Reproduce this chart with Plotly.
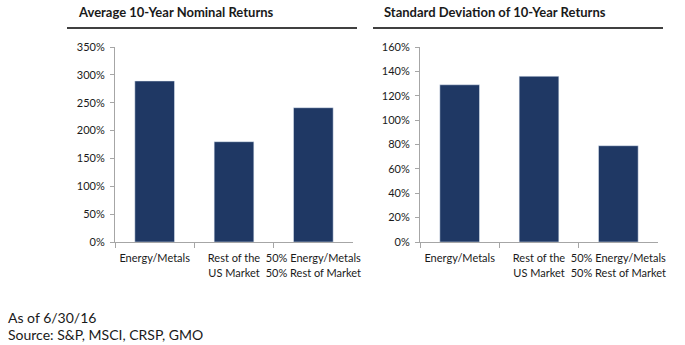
import plotly.graph_objects as go

W, H = 685, 345

categories = ["Energy/Metals", "Rest of the<br>US Market", "50% Energy/Metals<br>50% Rest of Market"]
avg_returns = [289, 180, 241]
std_dev = [129, 136, 79]
left_ticks = [0, 50, 100, 150, 200, 250, 300, 350]
right_ticks = [0, 20, 40, 60, 80, 100, 120, 140, 160]

BAR = "#1F3864"
AX = "#A6A6A6"
FONT = "Lato"
TXT = "#1a1a1a"

def px_x(x):
    return x / W

def px_y(y):
    return (H - y) / H

fig = go.Figure()
fig.add_trace(go.Bar(x=categories, y=avg_returns, marker_color=BAR, xaxis="x", yaxis="y", hoverinfo="skip"))
fig.add_trace(go.Bar(x=categories, y=std_dev, marker_color=BAR, xaxis="x2", yaxis="y2", hoverinfo="skip"))

common_x = dict(type="category", showline=True, linecolor=AX, linewidth=1, ticks="outside",
                tickson="boundaries", ticklen=5, tickcolor=AX, showgrid=False, tickangle=0,
                ticklabelstandoff=6,
                automargin=False, tickfont=dict(family=FONT, size=11, color=TXT), fixedrange=True)
common_y = dict(showline=True, linecolor=AX, linewidth=1, ticks="outside", ticklen=4,
                tickcolor=AX, showgrid=False, zeroline=False, automargin=False,
                ticklabelstandoff=3,
                tickfont=dict(family=FONT, size=11, color=TXT), fixedrange=True)

ydom = [px_y(242), px_y(47)]
fig.update_layout(
    width=W, height=H, margin=dict(l=0, r=0, t=0, b=0),
    paper_bgcolor="white", plot_bgcolor="white", showlegend=False, bargap=0.5,
    xaxis=dict(domain=[px_x(115), px_x(353)], anchor="y", **common_x),
    yaxis=dict(domain=ydom, anchor="x", range=[0, 350], tickmode="array", tickvals=left_ticks,
               ticktext=[f"{v}%" for v in left_ticks], **common_y),
    xaxis2=dict(domain=[px_x(420), px_x(658)], anchor="y2", **common_x),
    yaxis2=dict(domain=ydom, anchor="x2", range=[0, 160], tickmode="array", tickvals=right_ticks,
                ticktext=[f"{v}%" for v in right_ticks], **common_y),
)

titles = [("Average 10-Year Nominal Returns", 76), ("Standard Deviation of 10-Year Returns", 382)]
for t, x in titles:
    fig.add_annotation(text="<b>" + t + "</b>", x=px_x(x), y=px_y(12), xref="paper", yref="paper",
                       xanchor="left", yanchor="middle", showarrow=False,
                       font=dict(family=FONT, size=13, color=TXT))

for x0, x1 in [(67, 357), (373, 663)]:
    fig.add_shape(type="line", xref="paper", yref="paper", x0=px_x(x0), x1=px_x(x1),
                  y0=px_y(28), y1=px_y(28), line=dict(color="black", width=1.5))

for t, y in [("As of 6/30/16", 317), ("Source: S&P, MSCI, CRSP, GMO", 334)]:
    fig.add_annotation(text=t, x=px_x(6), y=px_y(y), xref="paper", yref="paper",
                       xanchor="left", yanchor="middle", showarrow=False,
                       font=dict(family=FONT, size=14, color=TXT))

fig.write_html("out.html")
